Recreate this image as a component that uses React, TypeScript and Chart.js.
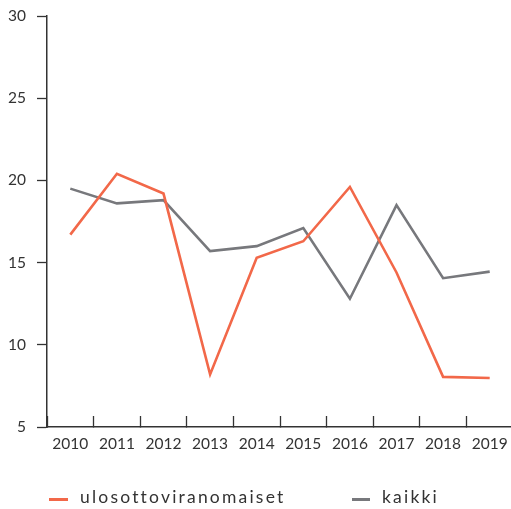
import React, { useEffect, useRef } from "react";
import { Chart, registerables } from "chart.js";

Chart.register(...registerables);

const years = ["2010", "2011", "2012", "2013", "2014", "2015", "2016", "2017", "2018", "2019"];
const ulosottoviranomaiset = [16.7, 20.4, 19.2, 8.2, 15.3, 16.3, 19.6, 14.4, 8.05, 7.98];
const kaikki = [19.5, 18.6, 18.8, 15.7, 16.0, 17.1, 12.8, 18.5, 14.05, 14.45];
const yMin = 5;
const yMax = 30;
const yStep = 5;

const ORANGE = "#F26849";
const GREY = "#77787C";
const AXIS = "#333333";
const FONT = "Lato, 'Open Sans', sans-serif";

export default function App() {
  const canvasRef = useRef<HTMLCanvasElement | null>(null);

  useEffect(() => {
    if (!canvasRef.current) return;
    const chart = new Chart(canvasRef.current, {
      type: "line",
      data: {
        labels: years,
        datasets: [
          {
            label: "ulosottoviranomaiset",
            data: ulosottoviranomaiset,
            borderColor: ORANGE,
            backgroundColor: ORANGE,
            borderWidth: 2.6,
            pointRadius: 0,
            tension: 0,
          },
          {
            label: "kaikki",
            data: kaikki,
            borderColor: GREY,
            backgroundColor: GREY,
            borderWidth: 2.6,
            pointRadius: 0,
            tension: 0,
          },
        ],
      },
      options: {
        animation: false,
        responsive: true,
        maintainAspectRatio: false,
        layout: { padding: { left: 0, top: 16, right: 0, bottom: 52 } },
        plugins: {
          legend: { display: false },
          tooltip: { enabled: false },
        },
        scales: {
          x: {
            offset: true,
            grid: {
              offset: true,
              drawOnChartArea: false,
              tickLength: -11,
              color: AXIS,
              tickWidth: 1.3,
            },
            border: { color: AXIS, width: 1.5 },
            ticks: {
              color: AXIS,
              font: { family: FONT, size: 15.5 },
              padding: 19,
              maxRotation: 0,
              autoSkip: false,
            },
            afterFit: (s: any) => {
              s.height = 30;
              s.paddingLeft = 0;
              s.paddingRight = 0;
            },
          },
          y: {
            min: yMin,
            max: yMax,
            grid: {
              drawOnChartArea: false,
              tickLength: 10,
              color: AXIS,
              tickWidth: 1.3,
            },
            border: { color: AXIS, width: 1.5 },
            ticks: {
              stepSize: yStep,
              color: AXIS,
              font: { family: FONT, size: 15.5 },
              padding: 11,
            },
            afterFit: (s: any) => {
              s.width = 47;
              s.paddingTop = 0;
              s.paddingBottom = 0;
            },
          },
        },
      },
    });
    return () => chart.destroy();
  }, []);

  const legendText: React.CSSProperties = {
    position: "absolute",
    top: 486,
    fontFamily: FONT,
    fontSize: 17.5,
    letterSpacing: "2.2px",
    color: AXIS,
    lineHeight: "22px",
    whiteSpace: "nowrap",
  };

  return (
    <div style={{ position: "absolute", left: 0, top: 0, width: 511, height: 509, overflow: "hidden", background: "#fff" }}>
      <div style={{ position: "absolute", left: 0, top: 0, width: 513, height: 509 }}>
        <canvas ref={canvasRef} />
      </div>
      <div style={{ position: "absolute", left: 49, top: 497.5, width: 19, height: 3, background: ORANGE }} />
      <div style={{ ...legendText, left: 80 }}>ulosottoviranomaiset</div>
      <div style={{ position: "absolute", left: 352, top: 497.5, width: 18, height: 3, background: GREY }} />
      <div style={{ ...legendText, left: 382 }}>kaikki</div>
    </div>
  );
}
